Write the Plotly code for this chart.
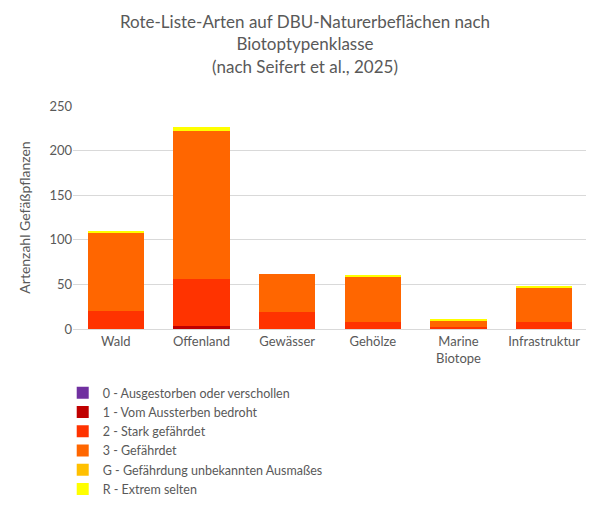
import plotly.graph_objects as go

categories = ["Wald", "Offenland", "Gewässer", "Gehölze", "Marine<br>Biotope", "Infrastruktur"]
series_names = ["0 - Ausgestorben oder verschollen", "1 - Vom Aussterben bedroht", "2 - Stark gefährdet",
                "3 - Gefährdet", "G - Gefährdung unbekannten Ausmaßes", "R - Extrem selten"]
v0 = [0, 0, 0, 0, 0, 0]
v1 = [0, 3, 0, 0, 0, 0]
v2 = [20, 53, 19, 8, 2, 8]
v3 = [88, 166, 43, 51, 8, 39]
vG = [0, 0, 0, 0, 0, 0]
vR = [2, 4, 0, 1, 1, 1]
colors = ["#7030A0", "#C00000", "#FF3300", "#FF6600", "#FFC000", "#FFFF00"]

fig = go.Figure()
for name, vals, c in zip(series_names, [v0, v1, v2, v3, vG, vR], colors):
    fig.add_bar(x=categories, y=vals, name=name, marker_color=c, marker_line_width=0)

fig.update_layout(
    barmode="stack", bargap=0.34, width=594, height=508,
    paper_bgcolor="white", plot_bgcolor="white",
    font=dict(family="Lato, Open Sans, sans-serif", color="#595959", size=13),
    title=dict(text="Rote-Liste-Arten auf DBU-Naturerbeflächen nach<br>Biotoptypenklasse<br>(nach Seifert et al., 2025)",
               x=0.5, xanchor="center", y=0.96, yanchor="top", font=dict(size=17, color="#595959")),
    margin=dict(l=65, r=15, t=98, b=142),
    yaxis=dict(range=[0, 250], dtick=50, gridcolor="#D9D9D9", zeroline=False,
               title=dict(text="Artenzahl Gefäßpflanzen", font=dict(size=14))),
    xaxis=dict(showline=True, linecolor="#D9D9D9"),
    legend=dict(orientation="h", x=-0.02, y=-0.22, xanchor="left", yanchor="top",
                entrywidth=268, entrywidthmode="pixels", font=dict(size=12.5), traceorder="normal"),
)
fig.write_html("out.html")
